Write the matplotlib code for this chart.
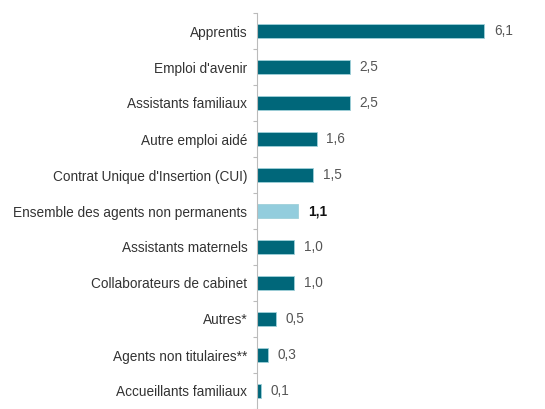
import numpy as np
import matplotlib.pyplot as plt

plt.rcParams['font.family'] = ['Liberation Sans', 'DejaVu Sans']

categories = ["Apprentis", "Emploi d'avenir", "Assistants familiaux",
              "Autre emploi aidé", "Contrat Unique d'Insertion (CUI)",
              "Ensemble des agents non permanents", "Assistants maternels",
              "Collaborateurs de cabinet", "Autres*", "Agents non titulaires**",
              "Accueillants familiaux"]
values = [6.1, 2.5, 2.5, 1.6, 1.5, 1.1, 1.0, 1.0, 0.5, 0.3, 0.1]
labels = ["6,1", "2,5", "2,5", "1,6", "1,5", "1,1", "1,0", "1,0", "0,5", "0,3", "0,1"]
highlight = "Ensemble des agents non permanents"

DARK = "#00677a"
LIGHT = "#93cddd"

W, H = 545, 409
fig = plt.figure(figsize=(W / 100, H / 100), dpi=100)
ax = fig.add_axes([257 / W, 0, 283 / W, (H - 13) / H])

y = np.arange(len(categories))
colors = [LIGHT if c == highlight else DARK for c in categories]
ax.barh(y, values, height=0.38, color=colors, edgecolor="#9fd0d9", linewidth=0.6)

for yi, v, lab, c in zip(y, values, labels, categories):
    ax.text(v + 0.26, yi, lab, va="center", ha="left", fontsize=9.8,
            color="#111111" if c == highlight else "#555555",
            fontweight="bold" if c == highlight else "normal")

ax.set_xlim(0, 7.6)
ax.set_ylim(10.26, -0.5)
ax.set_yticks(y)
ax.set_yticklabels(categories, fontsize=9.8, color="#333333")
ax.set_yticks(np.arange(-0.5, 10.6, 1), minor=True)
ax.tick_params(axis="y", which="major", length=0, pad=7)
ax.tick_params(axis="y", which="minor", length=3, color="#bbbbbb", width=0.8)
ax.set_xticks([])
for s in ["top", "right", "bottom"]:
    ax.spines[s].set_visible(False)
ax.spines["left"].set_color("#bbbbbb")
ax.spines["left"].set_linewidth(0.8)

fig.savefig("out.png", dpi=100)
